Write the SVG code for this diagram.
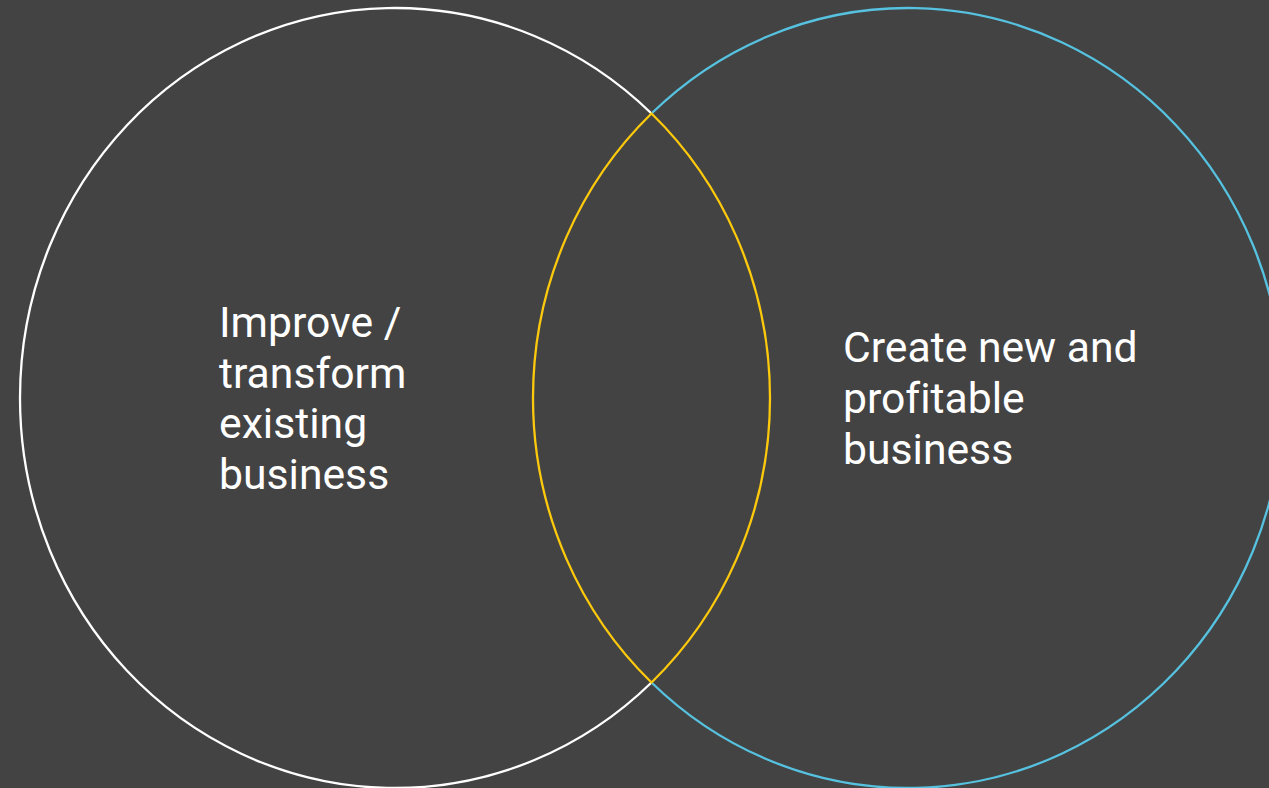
<svg xmlns="http://www.w3.org/2000/svg" width="1269" height="788" viewBox="0 0 1269 788">
  <style>
    .arc { fill: none; stroke-width: 2.3; }
    .label { font-family: Roboto, "Liberation Sans", sans-serif; font-size: 42.7px; fill: #ffffff; font-variant-ligatures: none; font-feature-settings: "liga" 0; }
  </style>
  <rect x="0" y="0" width="1269" height="788" fill="#434343"/>
  <g id="node-existing">
    <path class="arc" stroke="#ffffff" d="M 651.5 113.5 A 375 390 0 1 0 651.5 682.5"/>
    <text class="label" x="219">
      <tspan x="219" y="336.5">Improve /</tspan>
      <tspan x="219" y="387.5">transform</tspan>
      <tspan x="219" y="438">existing</tspan>
      <tspan x="219" y="489">business</tspan>
    </text>
  </g>
  <g id="node-new">
    <path class="arc" stroke="#56c2e0" d="M 651.5 113.5 A 375 390 0 1 1 651.5 682.5"/>
    <text class="label" x="843">
      <tspan x="843" y="362">Create new and</tspan>
      <tspan x="843" y="413">profitable</tspan>
      <tspan x="843" y="464">business</tspan>
    </text>
  </g>
  <g id="node-overlap">
    <path class="arc" stroke="#fcc90c" d="M 651.5 113.5 A 375 390 0 0 1 651.5 682.5 A 375 390 0 0 1 651.5 113.5 Z"/>
  </g>
</svg>
